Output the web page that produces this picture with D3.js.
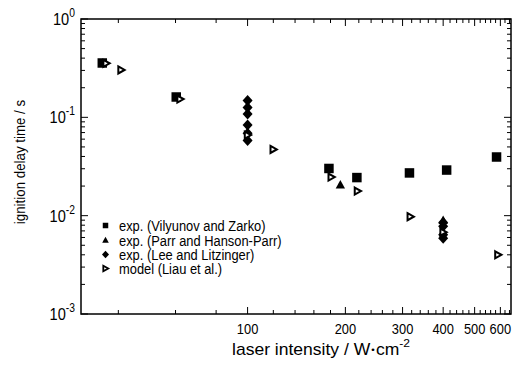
<!DOCTYPE html>
<html><head><meta charset="utf-8">
<script src="https://cdn.jsdelivr.net/npm/d3@7"></script>
<style>
body{margin:0;background:#fff;}
text{font-family:"Liberation Sans",Arial,sans-serif;fill:#000;}
</style></head>
<body><svg id="c" width="521" height="372"></svg>
<script>
// ---- data ----
const vzX = [35.7, 60.3, 178, 217, 315, 410, 584];
const vzY = [0.357, 0.161, 0.0302, 0.0244, 0.0272, 0.0291, 0.0395];
const phX = [193, 400];
const phY = [0.0207, 0.0090];
const llX = [100, 100, 100, 100, 100, 100, 400, 400, 400, 400];
const llY = [0.148, 0.126, 0.108, 0.0834, 0.069, 0.058, 0.0085, 0.0078, 0.0064, 0.0059];
const mdX = [36.7, 40.8, 62, 100, 120, 181, 218, 317, 400, 590];
const mdY = [0.354, 0.303, 0.1536, 0.066, 0.0471, 0.0247, 0.0178, 0.00975, 0.0068, 0.0040];
const xTickLabels = [100, 200, 300, 400, 500, 600];
const yTickExps = [0, -1, -2, -3];
const legendLabels = ["exp. (Vilyunov and Zarko)", "exp. (Parr and Hanson-Parr)", "exp. (Lee and Litzinger)", "model (Liau et al.)"];

const SX = 0.86; // horizontal condensing of the sans font
const svg = d3.select("#c");
const L = 81, R = 511, T = 19, B = 314;
const x = d3.scaleLog().domain([30.7, 647]).range([L, R]);
const y = d3.scaleLog().domain([1e-3, 1]).range([B, T]);

// ticks
const xt = d3.range(40, 647, 20);
const xMaj = v => v % 100 === 0;
const yt = [];
for (let e = -3; e <= 0; e++) for (let k = 1; k <= 9; k++) { const v = k * Math.pow(10, e); if (v <= 1.0000001) yt.push(v); }
const yMaj = v => Math.abs(Math.log10(v) - Math.round(Math.log10(v))) < 1e-6;

const g = svg.append("g");
g.selectAll(".xb").data(xt).join("line")
  .attr("x1", d => x(d)).attr("x2", d => x(d))
  .attr("y1", B).attr("y2", d => B - (xMaj(d) ? 7 : 4))
  .attr("stroke", "#000").attr("stroke-width", 1);
g.selectAll(".xt").data(xt).join("line")
  .attr("x1", d => x(d)).attr("x2", d => x(d))
  .attr("y1", T).attr("y2", d => T + (xMaj(d) ? 7 : 4))
  .attr("stroke", "#000").attr("stroke-width", 1);
g.selectAll(".yl").data(yt).join("line")
  .attr("y1", d => y(d)).attr("y2", d => y(d))
  .attr("x1", L).attr("x2", d => L + (yMaj(d) ? 7 : 4))
  .attr("stroke", "#000").attr("stroke-width", 1);
g.selectAll(".yr").data(yt).join("line")
  .attr("y1", d => y(d)).attr("y2", d => y(d))
  .attr("x1", R).attr("x2", d => R - (yMaj(d) ? 7 : 4))
  .attr("stroke", "#000").attr("stroke-width", 1);

svg.append("rect").attr("x", L).attr("y", T).attr("width", R - L).attr("height", B - T)
  .attr("fill", "none").attr("stroke", "#000").attr("stroke-width", 1.5);

// tick labels
svg.selectAll(".xlab").data(xTickLabels).join("text")
  .attr("transform", d => `translate(${x(d)},334) scale(${SX},1)`).attr("text-anchor", "middle")
  .attr("font-size", 15).text(d => d);
const yl = svg.selectAll(".ylab").data(yTickExps).join("text")
  .attr("transform", d => `translate(75,${y(Math.pow(10, d)) + 6}) scale(${SX},1)`).attr("text-anchor", "end")
  .attr("font-size", 17);
yl.append("tspan").text("10");
yl.append("tspan").attr("dy", -8).attr("font-size", 12).text(d => d === 0 ? "0" : "-" + Math.abs(d));

// axis titles
const xt1 = svg.append("text").attr("font-size", 16);
xt1.append("tspan").text("laser intensity / W");
xt1.append("tspan").text("\u2022").attr("font-size", 9).attr("dx", 1).attr("dy", -2);
xt1.append("tspan").text("cm").attr("dx", 1).attr("dy", 2);
xt1.append("tspan").text("-2").attr("font-size", 11).attr("dy", -8);
const xw = xt1.node().getComputedTextLength();
const xs = 176 / xw;
xt1.attr("transform", `translate(232,355) scale(${xs},1)`);

svg.append("text").attr("transform", `translate(25,162) rotate(-90) scale(${SX},1)`).attr("text-anchor", "middle")
  .attr("font-size", 15.5).text("ignition delay time / s");

// markers
const sq = s => `M${-s/2},${-s/2}h${s}v${s}h${-s}Z`;
const triUp = s => `M0,${-s*0.55}L${s*0.55},${s*0.45}L${-s*0.55},${s*0.45}Z`;
const dia = (w, h) => `M0,${-h/2}L${w/2},0L0,${h/2}L${-w/2},0Z`;
const triR = s => `M${-s*0.4},${-s*0.5}L${s*0.5},0L${-s*0.4},${s*0.5}Z`;

const vz = vzX.map((v, i) => [v, vzY[i]]);
const ph = phX.map((v, i) => [v, phY[i]]);
const ll = llX.map((v, i) => [v, llY[i]]);
const md = mdX.map((v, i) => [v, mdY[i]]);

svg.selectAll(".vz").data(vz).join("path").attr("d", sq(9.5))
  .attr("transform", d => `translate(${x(d[0])},${y(d[1])})`).attr("fill", "#000");
svg.selectAll(".ph").data(ph).join("path").attr("d", triUp(8.5))
  .attr("transform", d => `translate(${x(d[0])},${y(d[1])})`).attr("fill", "#000");
svg.selectAll(".ll").data(ll).join("path").attr("d", dia(10, 11))
  .attr("transform", d => `translate(${x(d[0])},${y(d[1])})`).attr("fill", "#000");
svg.selectAll(".md").data(md).join("path").attr("d", triR(7))
  .attr("transform", d => `translate(${x(d[0])},${y(d[1])})`)
  .attr("fill", "#fff").attr("stroke", "#000").attr("stroke-width", 2).attr("stroke-linejoin", "miter");

// legend
const lg = svg.append("g");
const ly = [225.5, 240, 254.5, 268.5];
const lx = 105.5;
lg.append("path").attr("d", sq(5.5)).attr("transform", `translate(${lx},${ly[0]})`).attr("fill", "#000");
lg.append("path").attr("d", triUp(6)).attr("transform", `translate(${lx},${ly[1]})`).attr("fill", "#000");
lg.append("path").attr("d", dia(7, 7.5)).attr("transform", `translate(${lx},${ly[2]})`).attr("fill", "#000");
lg.append("path").attr("d", triR(5.5)).attr("transform", `translate(${lx},${ly[3]})`)
  .attr("fill", "#fff").attr("stroke", "#000").attr("stroke-width", 1.8);
lg.selectAll("text").data(legendLabels).join("text")
  .attr("transform", (d, i) => `translate(119,${ly[i] + 5.5}) scale(${SX},1)`).attr("font-size", 15).text(d => d);
</script></body></html>
